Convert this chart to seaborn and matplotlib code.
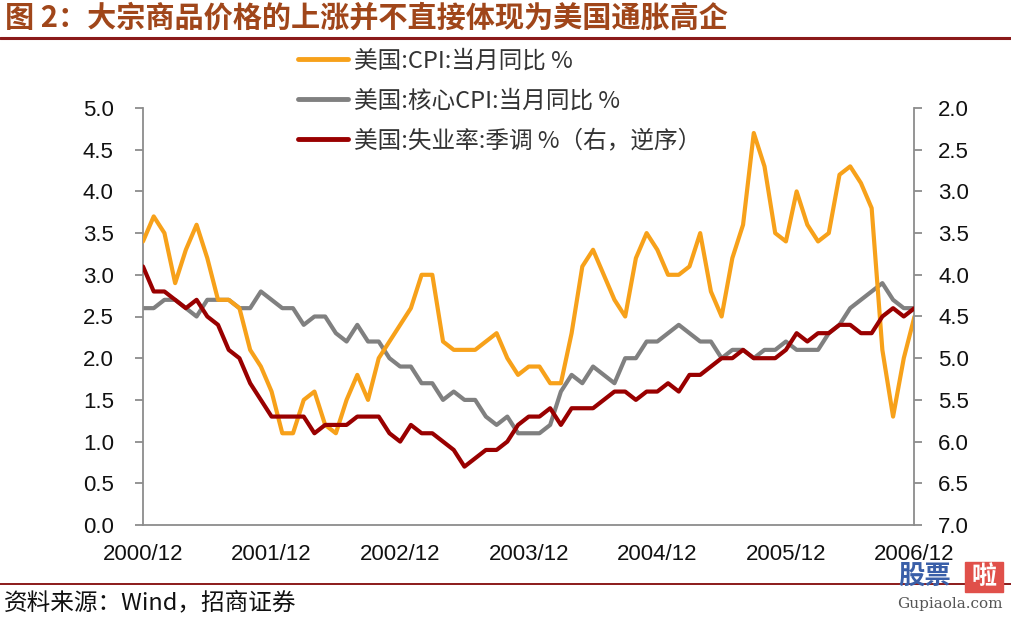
import numpy as np
import pandas as pd
import seaborn as sns
import matplotlib
matplotlib.use("Agg")
import matplotlib.pyplot as plt
from matplotlib.lines import Line2D
from matplotlib.patches import Rectangle

# ---------------- data ----------------
months = pd.period_range("2000-12", "2006-12", freq="M")
cpi = [3.4, 3.7, 3.5, 2.9, 3.3, 3.6, 3.2, 2.7, 2.7, 2.6, 2.1, 1.9,
       1.6, 1.1, 1.1, 1.5, 1.6, 1.2, 1.1, 1.5, 1.8, 1.5, 2.0, 2.2,
       2.4, 2.6, 3.0, 3.0, 2.2, 2.1, 2.1, 2.1, 2.2, 2.3, 2.0, 1.8,
       1.9, 1.9, 1.7, 1.7, 2.3, 3.1, 3.3, 3.0, 2.7, 2.5, 3.2, 3.5,
       3.3, 3.0, 3.0, 3.1, 3.5, 2.8, 2.5, 3.2, 3.6, 4.7, 4.3, 3.5,
       3.4, 4.0, 3.6, 3.4, 3.5, 4.2, 4.3, 4.1, 3.8, 2.1, 1.3, 2.0,
       2.5]
core_cpi = [2.6, 2.6, 2.7, 2.7, 2.6, 2.5, 2.7, 2.7, 2.7, 2.6, 2.6, 2.8,
            2.7, 2.6, 2.6, 2.4, 2.5, 2.5, 2.3, 2.2, 2.4, 2.2, 2.2, 2.0,
            1.9, 1.9, 1.7, 1.7, 1.5, 1.6, 1.5, 1.5, 1.3, 1.2, 1.3, 1.1,
            1.1, 1.1, 1.2, 1.6, 1.8, 1.7, 1.9, 1.8, 1.7, 2.0, 2.0, 2.2,
            2.2, 2.3, 2.4, 2.3, 2.2, 2.2, 2.0, 2.1, 2.1, 2.0, 2.1, 2.1,
            2.2, 2.1, 2.1, 2.1, 2.3, 2.4, 2.6, 2.7, 2.8, 2.9, 2.7, 2.6,
            2.6]
unemp = [3.9, 4.2, 4.2, 4.3, 4.4, 4.3, 4.5, 4.6, 4.9, 5.0, 5.3, 5.5,
         5.7, 5.7, 5.7, 5.7, 5.9, 5.8, 5.8, 5.8, 5.7, 5.7, 5.7, 5.9,
         6.0, 5.8, 5.9, 5.9, 6.0, 6.1, 6.3, 6.2, 6.1, 6.1, 6.0, 5.8,
         5.7, 5.7, 5.6, 5.8, 5.6, 5.6, 5.6, 5.5, 5.4, 5.4, 5.5, 5.4,
         5.4, 5.3, 5.4, 5.2, 5.2, 5.1, 5.0, 5.0, 4.9, 5.0, 5.0, 5.0,
         4.9, 4.7, 4.8, 4.7, 4.7, 4.6, 4.6, 4.7, 4.7, 4.5, 4.4, 4.5,
         4.4]
series_names = ["美国:CPI:当月同比 %", "美国:核心CPI:当月同比 %", "美国:失业率:季调 %（右，逆序）"]
tick_labels = ["2000/12", "2001/12", "2002/12", "2003/12", "2004/12", "2005/12", "2006/12"]
left_ticks = [0.0, 0.5, 1.0, 1.5, 2.0, 2.5, 3.0, 3.5, 4.0, 4.5, 5.0]
right_ticks = [2.0, 2.5, 3.0, 3.5, 4.0, 4.5, 5.0, 5.5, 6.0, 6.5, 7.0]
title = "图 2：大宗商品价格的上涨并不直接体现为美国通胀高企"
source = "资料来源：Wind，招商证券"

df = pd.DataFrame({"idx": np.arange(len(months)), "cpi": cpi,
                   "core": core_cpi, "unemp": unemp})

# ---------------- style ----------------
sns.set_style("white")
plt.rcParams['font.family'] = ['Liberation Sans', 'Noto Sans CJK SC', 'DejaVu Sans']
CJK = ['Noto Sans CJK SC', 'DejaVu Sans']

C_ORANGE = "#F7A11A"
C_GRAY = "#808080"
C_RED = "#990000"
AX_GRAY = "#8C8C8C"

W, H = 1012, 618
fig = plt.figure(figsize=(W / 100, H / 100), dpi=100)
fig.patch.set_facecolor("white")

x0, x1, yt, yb = 143, 914.5, 108, 525
ax = fig.add_axes([x0 / W, 1 - yb / H, (x1 - x0) / W, (yb - yt) / H])
ax2 = ax.twinx()

lw = 3.0
sns.lineplot(data=df, x="idx", y="cpi", ax=ax, color=C_ORANGE, lw=lw, zorder=3)
sns.lineplot(data=df, x="idx", y="core", ax=ax, color=C_GRAY, lw=lw, zorder=2)
sns.lineplot(data=df, x="idx", y="unemp", ax=ax2, color=C_RED, lw=lw, zorder=4)

ax.set_xlim(0, len(months) - 1)
ax.set_ylim(0, 5)
ax2.set_ylim(7, 2)
ax.set_xticks(np.arange(0, len(months), 12))
ax.set_xticklabels(tick_labels)
ax.set_yticks(left_ticks)
ax.set_yticklabels([f"{v:.1f}" for v in left_ticks])
ax2.set_yticks(right_ticks)
ax2.set_yticklabels([f"{v:.1f}" for v in right_ticks])
ax.set_xlabel("")
ax.set_ylabel("")
ax2.set_ylabel("")

for a in (ax, ax2):
    a.spines["top"].set_visible(False)
    for s in ("left", "right", "bottom"):
        a.spines[s].set_color(AX_GRAY)
        a.spines[s].set_linewidth(1.3)
ax.spines["right"].set_visible(False)
ax2.spines["left"].set_visible(False)
ax2.spines["bottom"].set_visible(False)

ax.tick_params(axis="y", direction="out", length=6, width=1.3, color=AX_GRAY,
               labelsize=16, pad=15, labelcolor="#111111")
ax.tick_params(axis="x", direction="out", length=6, width=1.3, color=AX_GRAY,
               labelsize=16, pad=8, labelcolor="#111111")
ax2.tick_params(axis="y", direction="out", length=6, width=1.3, color=AX_GRAY,
                labelsize=16, pad=11, labelcolor="#111111")
ax.patch.set_visible(False)

# ---------------- legend ----------------
handles = [Line2D([], [], color=C_ORANGE, lw=3.5),
           Line2D([], [], color=C_GRAY, lw=3.5),
           Line2D([], [], color=C_RED, lw=3.5)]
leg = fig.legend(handles, series_names, loc="upper left",
                 bbox_to_anchor=(289 / W, 1 - 40 / H), frameon=False,
                 prop={"family": CJK, "size": 17}, handlelength=2.1,
                 handletextpad=0.25, labelspacing=0.72, borderaxespad=0)
for t in leg.get_texts():
    t.set_color("#333333")

# ---------------- title & source ----------------
fig.text(5 / W, 1 - 18 / H, title, ha="left", va="center", fontsize=21,
         fontweight="bold", color="#A0461A", family=CJK)
fig.add_artist(Line2D([0, 1], [1 - 37.5 / H] * 2, color="#8B1A1A", lw=2.2,
                      transform=fig.transFigure))
fig.add_artist(Line2D([0, 1], [1 - 584 / H] * 2, color="#8B1A1A", lw=1.4,
                      transform=fig.transFigure))
fig.text(4 / W, 1 - 603 / H, source, ha="left", va="center", fontsize=17,
         color="#111111", family=CJK)

# watermark
fig.text(898 / W, 1 - 577 / H, "股票", ha="left", va="center", fontsize=19,
         fontweight="bold", color="#3A5FA8", family=CJK)
fig.add_artist(Rectangle((965 / W, 1 - 592 / H), 38 / W, 30 / H,
                         transform=fig.transFigure, color="#E0504A", zorder=5))
fig.text(984 / W, 1 - 577 / H, "啦", ha="center", va="center", fontsize=18,
         fontweight="bold", color="white", family=CJK, zorder=6)
fig.text(950 / W, 1 - 604 / H, "Gupiaola.com", ha="center", va="center",
         fontsize=11, color="#555555", family=["DejaVu Serif"])

fig.savefig("out.png", dpi=100, facecolor="white")
